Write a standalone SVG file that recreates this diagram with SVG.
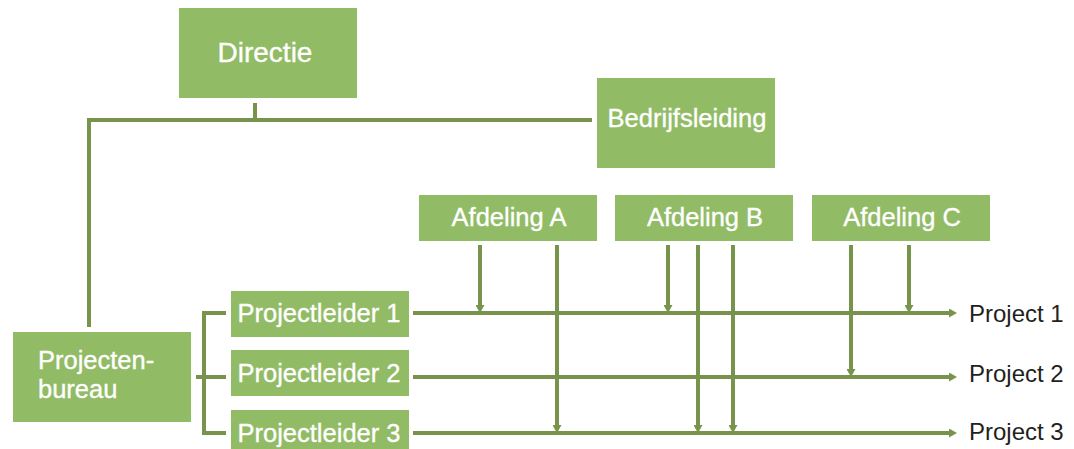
<svg xmlns="http://www.w3.org/2000/svg" width="1074" height="449" viewBox="0 0 1074 449">
  <style>
    .box { fill: #91bb65; }
    .lbl { font-family: "Liberation Sans", Arial, Helvetica, sans-serif; font-size: 25.5px; fill: #ffffff; stroke: #ffffff; stroke-width: 0.35; }
    .big { font-size: 28px; }
    .out { font-family: "Liberation Sans", Arial, Helvetica, sans-serif; font-size: 24px; fill: #231f20; }
    .ln { stroke: #77934c; stroke-width: 4; fill: none; }
    .arr { marker-end: url(#head); }
  </style>
  <defs>
    <marker id="head" markerUnits="userSpaceOnUse" viewBox="0 0 8 9" refX="1" refY="4.5" markerWidth="8" markerHeight="9" orient="auto">
      <path d="M0,0 L8,4.5 L0,9 Z" fill="#77934c"/>
    </marker>
  </defs>

  <rect width="1074" height="449" fill="#ffffff"/>

  <!-- connectors -->
  <g id="connectors">
    <!-- management tree -->
    <path class="ln" d="M255,103 V120"/>
    <path class="ln" d="M87,120 H592"/>
    <path class="ln" d="M89,120 V327"/>
    <!-- bureau bracket to project leaders -->
    <path class="ln" d="M196,377 H204"/>
    <path class="ln" d="M226,313 H204 V433 H226"/>
    <path class="ln" d="M204,377 H226"/>
    <!-- project lines -->
    <path class="ln arr" d="M413,313 H950"/>
    <path class="ln arr" d="M413,377 H950"/>
    <path class="ln arr" d="M413,433 H950"/>
    <!-- departments to projects -->
    <path class="ln arr" d="M480,245 V306"/>
    <path class="ln arr" d="M557,245 V426"/>
    <path class="ln arr" d="M668,245 V306"/>
    <path class="ln arr" d="M698,245 V426"/>
    <path class="ln arr" d="M733,245 V426"/>
    <path class="ln arr" d="M851,245 V370"/>
    <path class="ln arr" d="M909,245 V306"/>
  </g>

  <g id="directie">
    <rect class="box" x="179" y="8" width="178" height="90"/>
    <text class="lbl big" x="265" y="62" text-anchor="middle">Directie</text>
  </g>

  <g id="bedrijfsleiding">
    <rect class="box" x="597" y="78" width="178" height="90"/>
    <text class="lbl" x="687" y="127" text-anchor="middle">Bedrijfsleiding</text>
  </g>

  <g id="afdeling-a">
    <rect class="box" x="419" y="195" width="178" height="46"/>
    <text class="lbl" x="509" y="226" text-anchor="middle">Afdeling A</text>
  </g>

  <g id="afdeling-b">
    <rect class="box" x="615" y="195" width="178" height="46"/>
    <text class="lbl" x="705" y="226" text-anchor="middle">Afdeling B</text>
  </g>

  <g id="afdeling-c">
    <rect class="box" x="812" y="195" width="178" height="46"/>
    <text class="lbl" x="902" y="226" text-anchor="middle">Afdeling C</text>
  </g>

  <g id="projectenbureau">
    <rect class="box" x="13" y="332" width="178" height="90"/>
    <text class="lbl" x="38" y="369">Projecten-</text>
    <text class="lbl" x="38" y="398">bureau</text>
  </g>

  <g id="projectleider-1">
    <rect class="box" x="231" y="291" width="178" height="46"/>
    <text class="lbl" x="319" y="322" text-anchor="middle">Projectleider 1</text>
  </g>

  <g id="projectleider-2">
    <rect class="box" x="231" y="350" width="178" height="46"/>
    <text class="lbl" x="319" y="382" text-anchor="middle">Projectleider 2</text>
  </g>

  <g id="projectleider-3">
    <rect class="box" x="231" y="410" width="178" height="46"/>
    <text class="lbl" x="319" y="442" text-anchor="middle">Projectleider 3</text>
  </g>

  <g id="project-1">
    <text class="out" x="969" y="322">Project 1</text>
  </g>
  <g id="project-2">
    <text class="out" x="969" y="382">Project 2</text>
  </g>
  <g id="project-3">
    <text class="out" x="969" y="440">Project 3</text>
  </g>
</svg>
